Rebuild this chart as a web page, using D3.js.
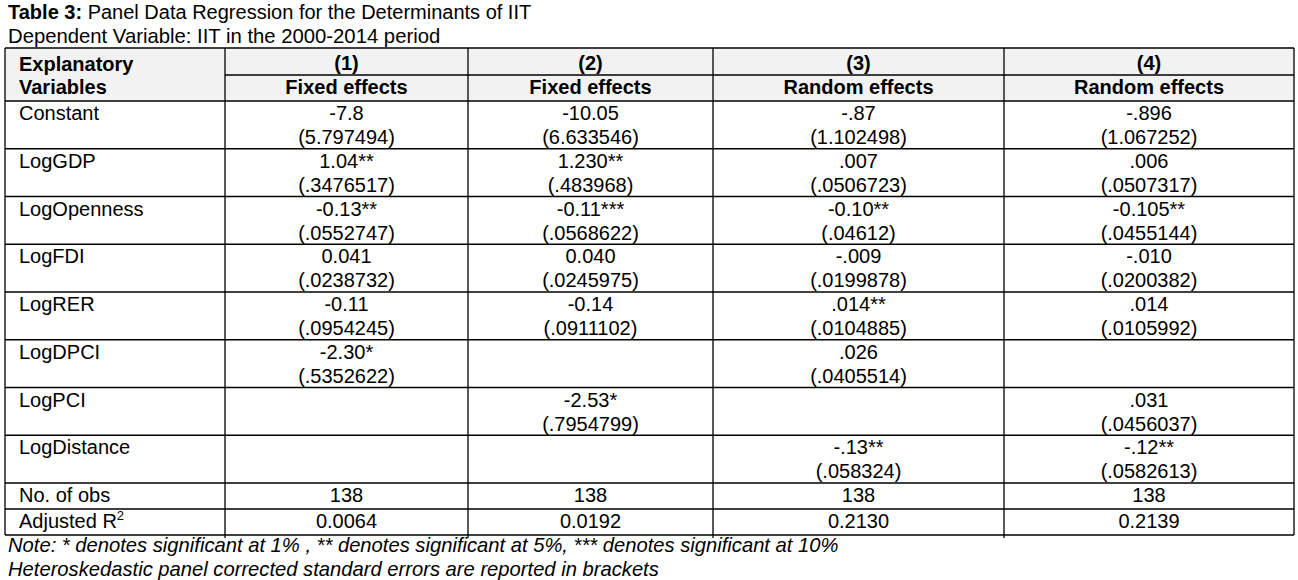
<!DOCTYPE html>
<html>
<head>
<meta charset="utf-8">
<script src="https://cdn.jsdelivr.net/npm/d3@7"></script>
<style>
  body { margin: 0; background: #fff; }
  svg text { font-family: "Liberation Sans", Arial, sans-serif; fill: #000; }
</style>
</head>
<body>
<svg width="1298" height="580"></svg>
<script>
// table content
var models = ["(1)", "(2)", "(3)", "(4)"];
var methods = ["Fixed effects", "Fixed effects", "Random effects", "Random effects"];
var variables = ["Constant", "LogGDP", "LogOpenness", "LogFDI", "LogRER", "LogDPCI", "LogPCI", "LogDistance"];

var coef1 = ["-7.8", "1.04**", "-0.13**", "0.041", "-0.11", "-2.30*", "", ""];
var se1 = ["(5.797494)", "(.3476517)", "(.0552747)", "(.0238732)", "(.0954245)", "(.5352622)", "", ""];
var coef2 = ["-10.05", "1.230**", "-0.11***", "0.040", "-0.14", "", "-2.53*", ""];
var se2 = ["(6.633546)", "(.483968)", "(.0568622)", "(.0245975)", "(.0911102)", "", "(.7954799)", ""];
var coef3 = ["-.87", ".007", "-0.10**", "-.009", ".014**", ".026", "", "-.13**"];
var se3 = ["(1.102498)", "(.0506723)", "(.04612)", "(.0199878)", "(.0104885)", "(.0405514)", "", "(.058324)"];
var coef4 = ["-.896", ".006", "-0.105**", "-.010", ".014", "", ".031", "-.12**"];
var se4 = ["(1.067252)", "(.0507317)", "(.0455144)", "(.0200382)", "(.0105992)", "", "(.0456037)", "(.0582613)"];

var nobs = ["138", "138", "138", "138"];
var adjR2 = ["0.0064", "0.0192", "0.2130", "0.2139"];

var coefs = [coef1, coef2, coef3, coef4];
var ses = [se1, se2, se3, se4];

var svg = d3.select("svg");
var fs = 20;

// column edges
var edges = [5, 225, 468, 713, 1004, 1294];
var colX = d3.scaleOrdinal().domain(d3.range(6)).range(edges);
function mid(i) { return (colX(i + 1) + colX(i + 2)) / 2; }

var tableTop = 48, headMid = 75, headBot = 101;
var y = d3.scaleLinear().domain([0, variables.length]).range([headBot, 483]);
var footY = d3.scaleLinear().domain([0, 2]).range([483, 535]);

// title
var t = svg.append("text").attr("x", 8).attr("y", 19).style("font-size", "20px");
t.append("tspan").style("font-weight", "bold").text("Table 3:");
t.append("tspan").text(" Panel Data Regression for the Determinants of IIT");
svg.append("text").attr("x", 8).attr("y", 43).style("font-size", "20.3px")
  .text("Dependent Variable: IIT in the 2000-2014 period");

// header background
svg.append("rect").attr("x", edges[0]).attr("y", tableTop)
  .attr("width", edges[5] - edges[0]).attr("height", headBot - tableTop)
  .attr("fill", "#f2f2f2");

// grid lines
var lines = svg.append("g").attr("stroke", "#000").attr("stroke-width", 1.3);
function hline(x1, x2, yy) {
  lines.append("line").attr("x1", x1).attr("x2", x2).attr("y1", yy).attr("y2", yy);
}
hline(edges[0], edges[5], tableTop);
hline(edges[1], edges[5], headMid);
d3.range(variables.length + 1).forEach(function(i) { hline(edges[0], edges[5], y(i)); });
d3.range(1, 3).forEach(function(i) { hline(edges[0], edges[5], footY(i)); });
edges.forEach(function(ex, i) {
  lines.append("line").attr("x1", ex).attr("x2", ex)
    .attr("y1", tableTop).attr("y2", footY(2) + (i > 0 && i < 5 ? 3 : 0));
});

// header text
svg.append("text").attr("x", 19).attr("y", 71).style("font-size", fs + "px")
  .style("font-weight", "bold").text("Explanatory");
svg.append("text").attr("x", 19).attr("y", 94).style("font-size", fs + "px")
  .style("font-weight", "bold").text("Variables");

svg.selectAll(".model").data(models).enter().append("text")
  .attr("x", function(d, i) { return mid(i); }).attr("y", 70)
  .attr("text-anchor", "middle").style("font-size", fs + "px").style("font-weight", "bold")
  .text(function(d) { return d; });
svg.selectAll(".method").data(methods).enter().append("text")
  .attr("x", function(d, i) { return mid(i); }).attr("y", 94)
  .attr("text-anchor", "middle").style("font-size", fs + "px").style("font-weight", "bold")
  .text(function(d) { return d; });

// variable names
svg.selectAll(".var").data(variables).enter().append("text")
  .attr("x", 19).attr("y", function(d, i) { return y(i) + 19; })
  .style("font-size", fs + "px").text(function(d) { return d; });

// coefficients and std errors
coefs.forEach(function(col, c) {
  svg.selectAll(".c" + c).data(col).enter().append("text")
    .attr("x", mid(c)).attr("y", function(d, i) { return y(i) + 19; })
    .attr("text-anchor", "middle").style("font-size", fs + "px")
    .text(function(d) { return d; });
  svg.selectAll(".s" + c).data(ses[c]).enter().append("text")
    .attr("x", mid(c)).attr("y", function(d, i) { return y(i) + 43; })
    .attr("text-anchor", "middle").style("font-size", fs + "px")
    .text(function(d) { return d; });
});

// footer rows
svg.append("text").attr("x", 19).attr("y", footY(0) + 19).style("font-size", fs + "px").text("No. of obs");
var r2 = svg.append("text").attr("x", 19).attr("y", footY(1) + 19).style("font-size", fs + "px");
r2.append("tspan").text("Adjusted R");
r2.append("tspan").attr("dy", -8).style("font-size", "13px").text("2");

svg.selectAll(".nobs").data(nobs).enter().append("text")
  .attr("x", function(d, i) { return mid(i); }).attr("y", footY(0) + 19)
  .attr("text-anchor", "middle").style("font-size", fs + "px").text(function(d) { return d; });
svg.selectAll(".r2").data(adjR2).enter().append("text")
  .attr("x", function(d, i) { return mid(i); }).attr("y", footY(1) + 19)
  .attr("text-anchor", "middle").style("font-size", fs + "px").text(function(d) { return d; });

// notes
svg.append("text").attr("x", 8).attr("y", 552).style("font-size", "20.2px").style("font-style", "italic")
  .text("Note: * denotes significant at 1% , ** denotes significant at 5%, *** denotes significant at 10%");
svg.append("text").attr("x", 8).attr("y", 576).style("font-size", "20.2px").style("font-style", "italic")
  .text("Heteroskedastic panel corrected standard errors are reported in brackets");
</script>
</body>
</html>
